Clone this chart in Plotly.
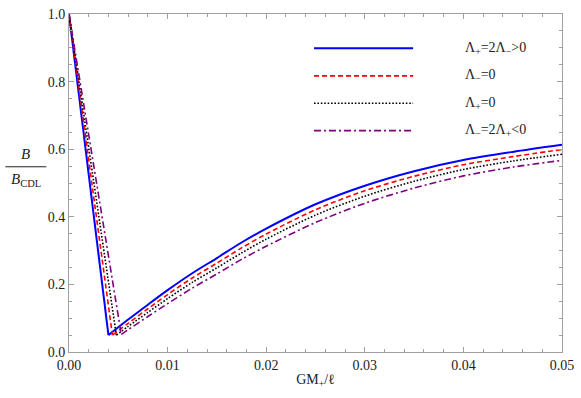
import plotly.graph_objects as go

# ---- data ----
x_blue = [0, 0.0040, 0.006, 0.008, 0.010, 0.0125, 0.015, 0.0175, 0.020, 0.025, 0.030, 0.035, 0.040, 0.045, 0.050]
y_blue = [1.0, 0.050, 0.096, 0.140, 0.183, 0.233, 0.278, 0.324, 0.365, 0.437, 0.492, 0.535, 0.568, 0.592, 0.613]

x_red = [0, 0.0044, 0.006, 0.008, 0.010, 0.0125, 0.015, 0.0175, 0.020, 0.025, 0.030, 0.035, 0.040, 0.045, 0.050]
y_red = [1.0, 0.050, 0.085, 0.128, 0.170, 0.219, 0.263, 0.308, 0.349, 0.421, 0.477, 0.520, 0.554, 0.578, 0.599]

x_black = [0, 0.0048, 0.006, 0.008, 0.010, 0.0125, 0.015, 0.0175, 0.020, 0.025, 0.030, 0.035, 0.040, 0.045, 0.050]
y_black = [1.0, 0.050, 0.076, 0.117, 0.158, 0.206, 0.249, 0.293, 0.334, 0.405, 0.461, 0.505, 0.540, 0.565, 0.585]

x_purple = [0, 0.0053, 0.006, 0.008, 0.010, 0.0125, 0.015, 0.0175, 0.020, 0.025, 0.030, 0.035, 0.040, 0.045, 0.050]
y_purple = [1.0, 0.052, 0.066, 0.105, 0.143, 0.189, 0.231, 0.274, 0.313, 0.383, 0.440, 0.485, 0.521, 0.547, 0.567]

labels = ["Λ<sub>+</sub>=2Λ<sub>−</sub>>0", "Λ<sub>−</sub>=0", "Λ<sub>+</sub>=0", "Λ<sub>−</sub>=2Λ<sub>+</sub><0"]
colors = ["#0000FF", "#FF0000", "#000000", "#800080"]
dashes = ["solid", "5px,3px", "1.6px,1.8px", "7px,3px,2px,3px"]
widths = [2, 1.6, 1.6, 1.6]

x_ticks = [0, 0.01, 0.02, 0.03, 0.04, 0.05]
x_ticklabels = ["0.00", "0.01", "0.02", "0.03", "0.04", "0.05"]
y_ticks = [0, 0.2, 0.4, 0.6, 0.8, 1.0]
y_ticklabels = ["0.0", "0.2", "0.4", "0.6", "0.8", "1.0"]

series = [(x_blue, y_blue), (x_red, y_red), (x_black, y_black), (x_purple, y_purple)]

FONT = "Liberation Serif, Times New Roman, serif"

fig = go.Figure()
for (xs, ys), lab, c, d, w in zip(series, labels, colors, dashes, widths):
    # straight drop to the minimum
    fig.add_trace(go.Scatter(x=xs[:2], y=ys[:2], mode="lines", name=lab,
                             line=dict(color=c, dash=d, width=w), showlegend=False))
    # smooth rise after the minimum
    fig.add_trace(go.Scatter(x=xs[1:], y=ys[1:], mode="lines", name=lab,
                             line=dict(color=c, dash=d, width=w, shape="spline", smoothing=0.8),
                             showlegend=False))

axis_common = dict(showgrid=False, zeroline=False, showline=True, linecolor="#A0A0A0",
                   linewidth=1, mirror="allticks", ticks="inside", ticklen=5,
                   tickcolor="#A0A0A0", tickfont=dict(family=FONT, size=14, color="#222"))

fig.update_layout(
    width=581, height=398,
    margin=dict(l=69, r=15, t=7, b=46),
    paper_bgcolor="white", plot_bgcolor="white",
    font=dict(family=FONT, size=14, color="#222"),
    xaxis=dict(range=[0, 0.05], tickvals=x_ticks, ticktext=x_ticklabels,
               minor=dict(ticks="inside", ticklen=3, dtick=0.002, tickcolor="#A0A0A0"),
               title=dict(text="GM<sub>+</sub>/ℓ", font=dict(family=FONT, size=14, color="#222"), standoff=2),
               **axis_common),
    yaxis=dict(range=[0, 1], tickvals=y_ticks, ticktext=y_ticklabels,
               minor=dict(ticks="inside", ticklen=3, dtick=0.05, tickcolor="#A0A0A0"),
               **axis_common),
)

# y-axis fraction title
fig.add_annotation(x=-0.088, y=0.556, xref="paper", yref="paper", xanchor="center", yanchor="bottom",
                   showarrow=False, text="<i>B</i>",
                   font=dict(family=FONT, size=15, color="#222"))
fig.add_shape(type="line", xref="paper", yref="paper", x0=-0.129, x1=-0.046, y0=0.548, y1=0.548,
              line=dict(color="#222", width=1))
fig.add_annotation(x=-0.088, y=0.542, xref="paper", yref="paper", xanchor="center", yanchor="top",
                   showarrow=False, text="<i>B</i><sub>CDL</sub>",
                   font=dict(family=FONT, size=15, color="#222"))

# legend drawn manually
leg_y = [0.899, 0.817, 0.736, 0.655]
for lab, c, d, w, yy in zip(labels, colors, dashes, widths, leg_y):
    fig.add_shape(type="line", xref="paper", yref="paper", x0=0.497, x1=0.698, y0=yy, y1=yy,
                  line=dict(color=c, dash=d, width=w))
    fig.add_annotation(x=0.799, y=yy, xref="paper", yref="paper", xanchor="left", yanchor="middle",
                       showarrow=False, text=lab, font=dict(family=FONT, size=14, color="#222"))

fig.write_html("out.html", config={"displayModeBar": False},
               post_script="document.body.style.margin='0';")
